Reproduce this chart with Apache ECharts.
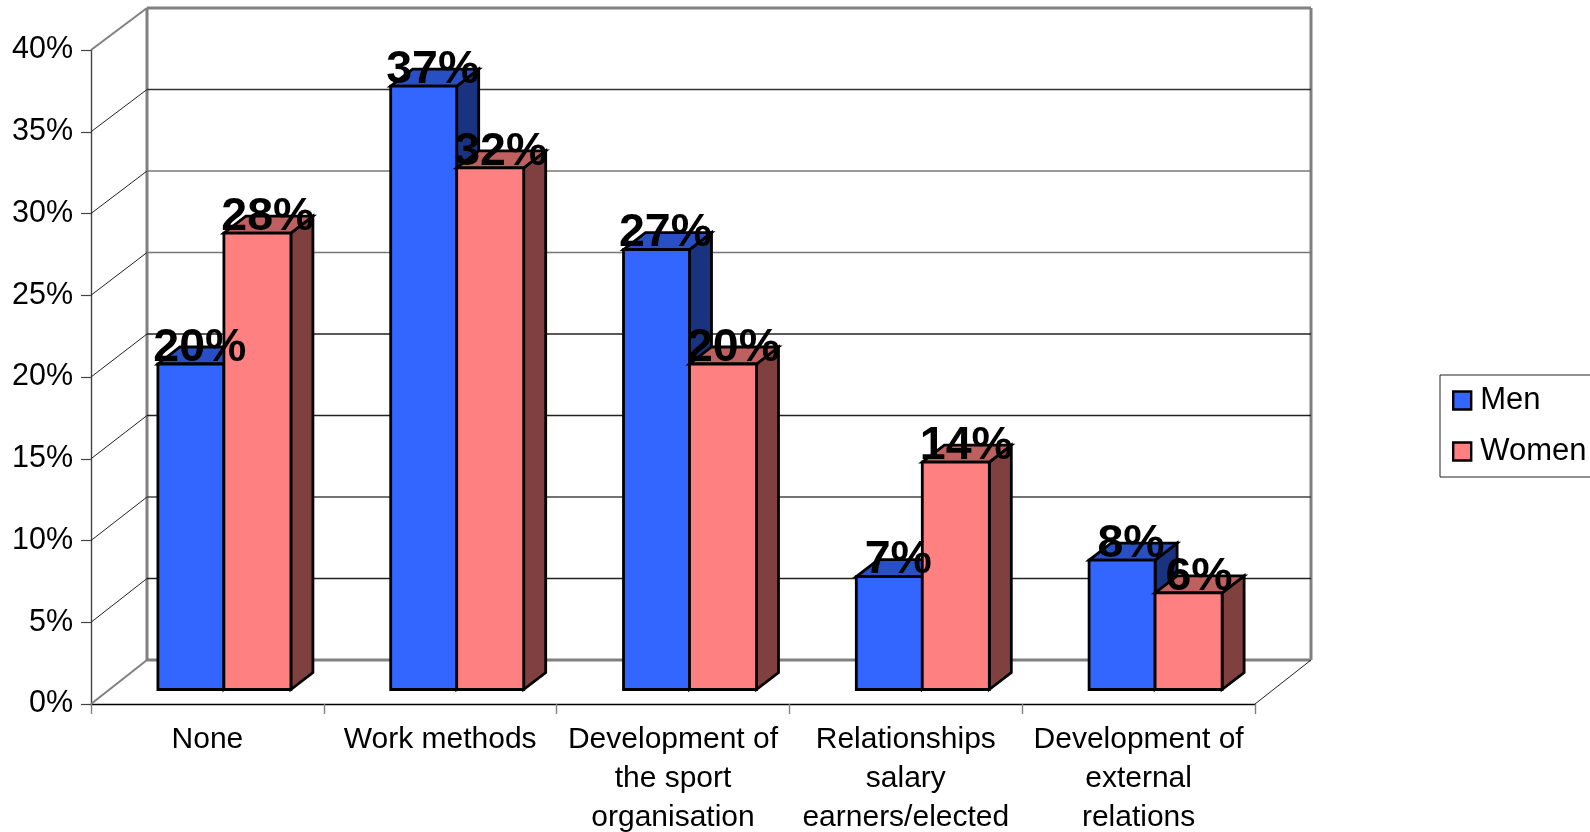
<!DOCTYPE html>
<html>
<head>
<meta charset="utf-8">
<style>html,body{margin:0;padding:0;background:#fff;overflow:hidden}#c{width:1590px;height:832px}</style>
<script src="https://cdn.jsdelivr.net/npm/echarts@6/dist/echarts.min.js"></script>
</head>
<body>
<div id="c"></div>
<script>
const categories = ['None', 'Work methods', 'Development of\nthe sport\norganisation', 'Relationships\nsalary\nearners/elected', 'Development of\nexternal\nrelations'];
const men = [20, 37, 27, 7, 8];
const women = [28, 32, 20, 14, 6];
const yTicks = [0, 5, 10, 15, 20, 25, 30, 35, 40];

const FONT = '"Liberation Sans", Arial, sans-serif';
const WALL_DX = 56;
const wallDy = function (v) { return -44 + v / 20; };
const DEPTH = { dx: 22, dy: -17 };
const SHIFT = { dx: 16.5, dy: -14.5, topDy: 1.5 };
const WIDTH = { men: 66, women: 67 };
const GRAY = '#808080';
const shade = { 0: GRAY, 5: '#222', 10: '#444', 15: '#222', 20: '#222', 25: '#777', 30: '#777', 35: '#333', 40: GRAY };

function wallItem(params, api) {
  const v = api.value(1);
  const p = api.coord([0, v]);
  const g = params.coordSys;
  const x0 = g.x, x1 = g.x + g.width;
  const y = p[1];
  const dy = wallDy(v);
  const border = v === 0 || v === 40;
  const kids = [
    { type: 'line', shape: { x1: x0, y1: y, x2: x0 + WALL_DX, y2: y + dy },
      style: { stroke: border ? GRAY : '#222', lineWidth: border ? 2 : 1 } },
    { type: 'line', shape: { x1: x0 + WALL_DX, y1: y + dy, x2: x1 + WALL_DX, y2: y + dy },
      style: { stroke: shade[v], lineWidth: border ? 3 : 1.4 } }
  ];
  if (v === 0) {
    kids.push({ type: 'line', shape: { x1: x1, y1: y, x2: x1 + WALL_DX, y2: y + dy }, style: { stroke: '#222', lineWidth: 1 } });
    const top = api.coord([0, 40])[1] + wallDy(40);
    [x0, x1].forEach(function (x) {
      kids.push({ type: 'line', shape: { x1: x + WALL_DX, y1: y + dy, x2: x + WALL_DX, y2: top },
        style: { stroke: GRAY, lineWidth: 3 } });
    });
  }
  return { type: 'group', children: kids };
}

function barGeom(api, isMen) {
  const top = api.coord([api.value(0), api.value(1)]);
  const base = api.coord([api.value(0), 0]);
  const split = top[0] + SHIFT.dx;
  const xl = isMen ? split - WIDTH.men : split;
  const xr = isMen ? split : split + WIDTH.women;
  return { xl: xl, xr: xr, yt: top[1] + SHIFT.dy + SHIFT.topDy, yb: base[1] + SHIFT.dy };
}

function barRender(isMen, front, topC, sideC) {
  return function (params, api) {
    const b = barGeom(api, isMen);
    const st = function (c) { return { fill: c, stroke: '#000', lineWidth: 2.8, lineJoin: 'miter' }; };
    return { type: 'group', children: [
      { type: 'polygon', shape: { points: [[b.xr, b.yt], [b.xr + DEPTH.dx, b.yt + DEPTH.dy], [b.xr + DEPTH.dx, b.yb + DEPTH.dy], [b.xr, b.yb]] }, style: st(sideC) },
      { type: 'polygon', shape: { points: [[b.xl, b.yt], [b.xl + DEPTH.dx, b.yt + DEPTH.dy], [b.xr + DEPTH.dx, b.yt + DEPTH.dy], [b.xr, b.yt]] }, style: st(topC) },
      { type: 'rect', shape: { x: b.xl, y: b.yt, width: b.xr - b.xl, height: b.yb - b.yt }, style: st(front) }
    ] };
  };
}

function labelRender(isMen) {
  return function (params, api) {
    const b = barGeom(api, isMen);
    return { type: 'text', style: {
      x: (b.xl + b.xr + DEPTH.dx) / 2 - (isMen ? 2 : 0.5), y: b.yt - 16,
      text: api.value(1) + '%', align: 'center', verticalAlign: 'middle',
      fill: '#000', font: 'bold 46.5px ' + FONT
    } };
  };
}

const toPairs = function (arr) { return arr.map(function (v, i) { return [i, v]; }); };

const chart = echarts.init(document.getElementById('c'), null, { renderer: 'canvas' });
chart.setOption({
  animation: false,
  backgroundColor: '#fff',
  grid: { left: 91, right: 335, top: 50, bottom: 128, containLabel: false, outerBoundsMode: 'none' },
  legend: {
    show: true, orient: 'vertical', left: 1440, top: 375,
    padding: [10, 14, 10, 12], itemGap: 20, itemWidth: 18, itemHeight: 18,
    borderColor: '#222', borderWidth: 1, backgroundColor: '#fff',
    textStyle: { fontFamily: FONT, fontSize: 31, color: '#000', padding: [0, 0, 0, 4] },
    data: [
      { name: 'Men', icon: 'rect', itemStyle: { color: '#3366ff', borderColor: '#000', borderWidth: 2.4 } },
      { name: 'Women', icon: 'rect', itemStyle: { color: '#ff8080', borderColor: '#000', borderWidth: 2.4 } }
    ]
  },
  xAxis: {
    type: 'category', data: categories, boundaryGap: true,
    axisLine: { lineStyle: { color: '#000', width: 1.4 } },
    axisTick: { show: true, length: 10, alignWithLabel: false, lineStyle: { color: GRAY, width: 1.4 } },
    axisLabel: { interval: 0, margin: 16.5, fontFamily: FONT, fontSize: 30, lineHeight: 39, color: '#000', hideOverlap: false }
  },
  yAxis: {
    type: 'value', min: 0, max: 40, interval: 5,
    axisLine: { show: true, lineStyle: { color: '#444', width: 1.4 } },
    axisTick: { show: true, length: 10, lineStyle: { color: '#444', width: 1.2 } },
    splitLine: { show: false },
    axisLabel: { margin: 18, formatter: '{value}%', fontFamily: FONT, fontSize: 30.5, color: '#000' }
  },
  series: [
    { type: 'custom', name: 'wall', silent: true, z: 1, clip: false, encode: { x: 0, y: 1 },
      data: yTicks.map(function (v) { return [0, v]; }), renderItem: wallItem },
    { type: 'custom', name: 'Men', silent: true, z: 2, encode: { x: 0, y: 1 }, data: toPairs(men),
      itemStyle: { color: '#3366ff' }, renderItem: barRender(true, '#3366ff', '#2850c4', '#1a3380') },
    { type: 'custom', name: 'Women', silent: true, z: 3, encode: { x: 0, y: 1 }, data: toPairs(women),
      itemStyle: { color: '#ff8080' }, renderItem: barRender(false, '#ff8080', '#bf6060', '#804040') },
    { type: 'custom', name: 'menLabels', silent: true, z: 5, encode: { x: 0, y: 1 }, data: toPairs(men), renderItem: labelRender(true) },
    { type: 'custom', name: 'womenLabels', silent: true, z: 5, encode: { x: 0, y: 1 }, data: toPairs(women), renderItem: labelRender(false) }
  ]
});
</script>
</body>
</html>
